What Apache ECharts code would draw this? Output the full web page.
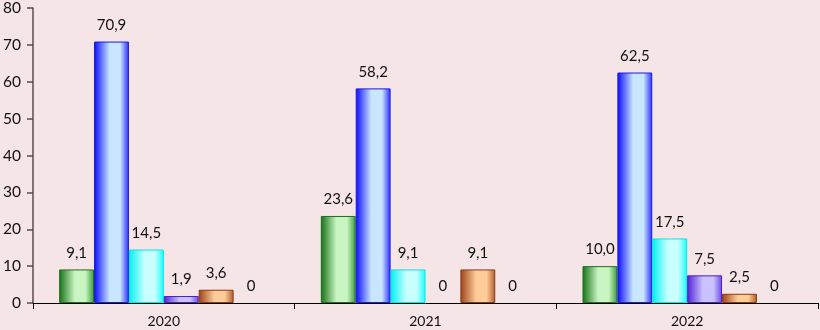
<!DOCTYPE html>
<html><head><meta charset="utf-8">
<script src="https://cdn.jsdelivr.net/npm/echarts@6/dist/echarts.min.js"></script>
<style>html,body{margin:0;padding:0;background:#f6e5e7;}#c{width:820px;height:330px;}</style>
</head><body><div id="c"></div>
<script>
const categories = ['2020', '2021', '2022'];
const seriesA = [9.1, 23.6, 10.0];
const seriesB = [70.9, 58.2, 62.5];
const seriesC = [14.5, 9.1, 17.5];
const seriesD = [1.9, 0, 7.5];
const seriesE = [3.6, 9.1, 2.5];
const seriesF = [0, 0, 0];
const yTicks = {min: 0, max: 80, interval: 10};

function grad(edge, mid, edge2) {
  return new echarts.graphic.LinearGradient(0, 0, 1, 0, [
    {offset: 0, color: edge}, {offset: 0.45, color: mid}, {offset: 0.75, color: mid}, {offset: 1, color: edge2}
  ]);
}
const styles = [
  {c: grad('#157015', '#c9f5c2', '#3a9a3a'), b: '#1f6f1f'},
  {c: grad('#0a0aff', '#c8e6ff', '#2a2aff'), b: '#1a1ae0'},
  {c: grad('#00f0f0', '#c8ffff', '#10ffff'), b: '#00e8e8'},
  {c: grad('#5020d0', '#cac2ff', '#6a48e0'), b: '#4a20c0'},
  {c: grad('#9a4218', '#ffcc98', '#b05a2a'), b: '#8a3a12'},
  {c: grad('#d0b000', '#fff0a0', '#d0b000'), b: '#b09000'}
];
const data = [seriesA, seriesB, seriesC, seriesD, seriesE, seriesF];
const font = 'Lato, "Noto Sans", sans-serif';
const fmt = p => p.value === 0 ? '0' : p.value.toFixed(1).replace('.', ',');

const chart = echarts.init(document.getElementById('c'));
chart.setOption({
  backgroundColor: '#f6e5e7',
  animation: false,
  grid: {left: 32, right: 2, top: 6, bottom: 27},
  xAxis: {
    type: 'category', data: categories,
    axisLine: {lineStyle: {color: '#000', width: 1}},
    axisTick: {show: true, length: 6, lineStyle: {color: '#000'}},
    axisLabel: {color: '#111', fontSize: 14, fontFamily: font, margin: 11}
  },
  yAxis: {
    type: 'value', min: yTicks.min, max: yTicks.max, interval: yTicks.interval,
    splitLine: {show: false},
    axisLine: {show: true, lineStyle: {color: '#5c4a4a', width: 1.5}},
    axisTick: {show: true, length: 6, lineStyle: {color: '#5c4a4a', width: 1.5}},
    axisLabel: {color: '#111', fontSize: 15.5, fontFamily: font, margin: 12}
  },
  series: data.map((d, i) => ({
    type: 'bar', barGap: '0%', barCategoryGap: '20%',
    data: d.map(v => v === 0 ? {value: v, itemStyle: {borderWidth: 0, color: 'rgba(0,0,0,0)'}} : v),
    itemStyle: {color: styles[i].c, borderColor: styles[i].b, borderWidth: 1},
    label: {show: true, position: 'top', distance: 9, color: '#111', fontSize: 15, fontFamily: font, formatter: fmt}
  }))
});
</script></body></html>
